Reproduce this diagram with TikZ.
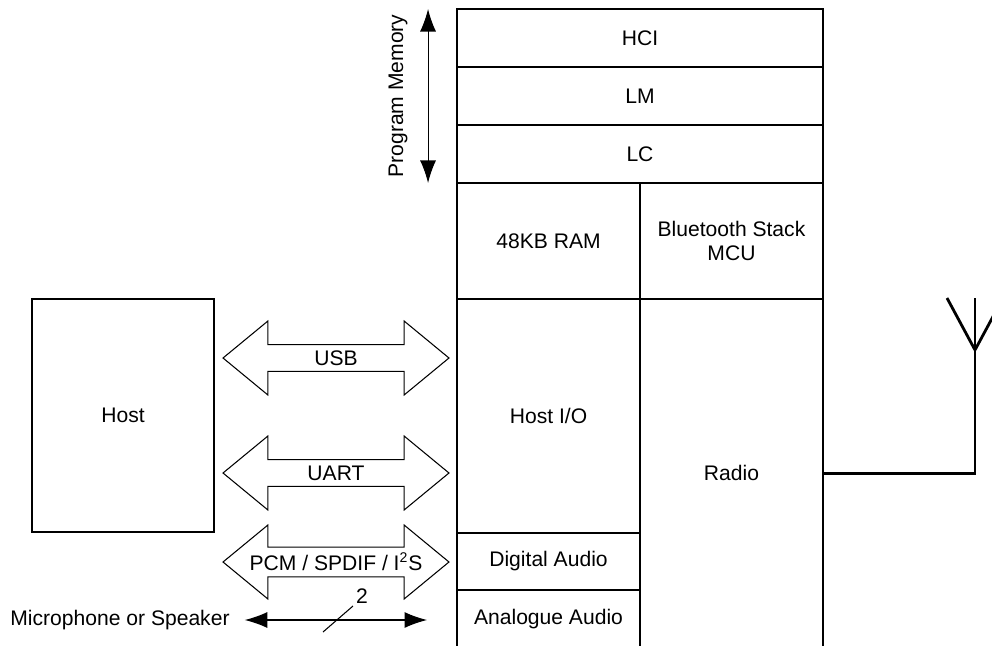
\documentclass[tikz,border=0pt]{standalone}
\usepackage{fontspec}
\setmainfont{Liberation Sans}
\usetikzlibrary{arrows.meta,positioning,shapes.arrows}

\begin{document}
\begin{tikzpicture}[x=0.02cm,y=-0.02cm,node distance=0pt,
  font=\fontsize{12}{14}\selectfont,
  cell/.style={draw,line width=1.1pt,outer sep=0pt,inner sep=0pt,align=center,minimum width=3.66cm},
  wide/.style={cell,minimum width=7.32cm,minimum height=1.16cm},
  hostbox/.style={draw,line width=0.75pt,minimum width=3.64cm,minimum height=4.66cm},
  bus/.style={draw,line width=0.6pt,double arrow,double arrow tip angle=79,double arrow head extend=0.28cm,minimum height=4.52cm,minimum width=1.48cm,inner sep=0pt},
  ar/.style={{Latex[length=0.45cm,width=0.32cm]}-{Latex[length=0.45cm,width=0.32cm]},line width=0.6pt},
  aerial/.style={line width=1.6pt}]
  \useasboundingbox (0,0) rectangle (992,646);
  \clip (0,0) rectangle (992,646);
  % chip
  \node[wide] (hci) at (640,38) {HCI};
  \node[wide,below=of hci] (lm) {LM};
  \node[wide,below=of lm] (lc) {LC};
  \node[cell,minimum height=2.32cm,below right=of lc.south west] (ram) {48KB RAM};
  \node[cell,minimum height=2.32cm,right=of ram] (mcu) {Bluetooth Stack\\MCU};
  \node[cell,minimum height=4.68cm,below=of ram] (hostio) {Host I/O};
  \node[cell,minimum height=6.98cm,below=of mcu] (radio) {Radio};
  \node[cell,minimum height=1.14cm,below=of hostio] (digital) {Digital Audio};
  \node[cell,minimum height=1.16cm,below=of digital] (analogue) {Analogue Audio};
  % host side
  \node[hostbox] (host) at (123,415.5) {Host};
  \node[bus] (usb) at (336,358) {USB};
  \node[bus] (uart) at (336,473) {UART};
  \node[bus] (pcm) at (336,562) {PCM / SPDIF / I\textsuperscript{2}S};
  \node (mic) at (120,620) {Microphone or Speaker};
  \draw[ar,shorten <=0.18cm,shorten >=0.6cm] (mic.east) -- (mic.east -| analogue.west);
  \coordinate (tick) at (338,619);
  \draw[line width=0.6pt] (tick) ++(-15,13) -- ++(30,-26);
  \node[inner sep=0pt] (two) at (362,596) {2};
  % program memory
  \draw[ar] ([xshift=-0.58cm]hci.north west) -- ([xshift=-0.58cm]lc.south west);
  \node[rotate=90] (pm) at (398,96) {Program Memory};
  % antenna
  \coordinate (feed) at (975,350);
  \draw[aerial] (radio.east) -| (feed) -- ++(0,-52);
  \draw[aerial] (feed) -- ++(-28,-52) (feed) -- ++(28,-52);
\end{tikzpicture}
\end{document}
